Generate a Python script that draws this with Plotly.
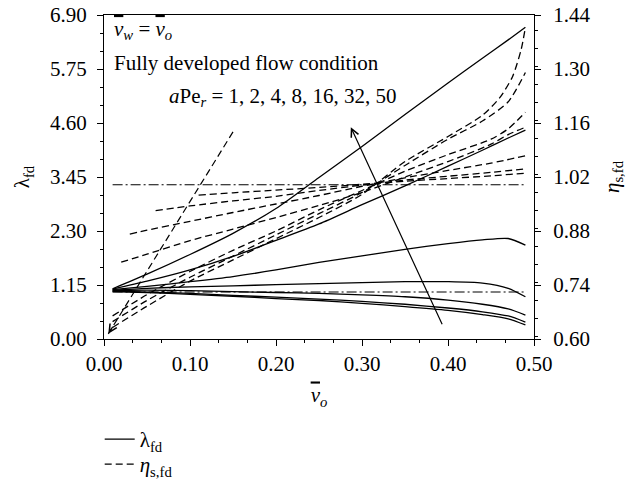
import plotly.graph_objects as go

# ---------------- data ----------------
APE = [1, 2, 4, 8, 16, 32, 50]

V_LAM = [0.01, 0.05, 0.10, 0.15, 0.20, 0.25, 0.30, 0.35, 0.40, 0.44, 0.47, 0.49]
LAM_1 = [1.01, 0.99, 0.95, 0.91, 0.86, 0.82, 0.76, 0.69, 0.61, 0.52, 0.43, 0.30]
LAM_2 = [1.02, 1.00, 0.97, 0.93, 0.89, 0.85, 0.80, 0.74, 0.66, 0.58, 0.49, 0.36]
LAM_4 = [1.03, 1.04, 1.03, 1.01, 0.99, 0.97, 0.94, 0.90, 0.83, 0.74, 0.64, 0.51]
LAM_8 = [1.04, 1.08, 1.11, 1.13, 1.16, 1.18, 1.20, 1.22, 1.22, 1.19, 1.08, 0.90]
LAM_16 = [1.05, 1.12, 1.22, 1.33, 1.47, 1.63, 1.77, 1.91, 2.03, 2.11, 2.14, 2.00]
LAM_32 = [1.06, 1.23, 1.47, 1.76, 2.10, 2.45, 2.86, 3.26, 3.68, 4.02, 4.28, 4.45]
LAM_50 = [1.07, 1.38, 1.80, 2.25, 2.78, 3.44, 4.10, 4.78, 5.45, 5.98, 6.37, 6.64]

V_ETA_1 = [0.11, 0.15, 0.20, 0.25, 0.30, 0.35, 0.40, 0.45, 0.49]
ETA_1 = [0.973, 0.979, 0.986, 0.993, 1.001, 1.009, 1.016, 1.023, 1.030]
V_ETA_2 = [0.06, 0.10, 0.15, 0.20, 0.25, 0.30, 0.35, 0.40, 0.45, 0.49]
ETA_2 = [0.933, 0.945, 0.958, 0.970, 0.985, 0.999, 1.012, 1.022, 1.032, 1.041]
V_ETA_4 = [0.03, 0.05, 0.10, 0.15, 0.20, 0.25, 0.30, 0.35, 0.40, 0.45, 0.49]
ETA_4 = [0.872, 0.882, 0.905, 0.928, 0.950, 0.972, 0.996, 1.018, 1.037, 1.056, 1.075]
V_ETA_8 = [0.02, 0.05, 0.10, 0.15, 0.20, 0.25, 0.30, 0.35, 0.40, 0.45, 0.47, 0.49]
ETA_8 = [0.799, 0.820, 0.855, 0.885, 0.915, 0.946, 0.980, 1.020, 1.060, 1.105, 1.130, 1.149]
V_ETA_16 = [0.01, 0.05, 0.10, 0.15, 0.20, 0.25, 0.30, 0.35, 0.40, 0.45, 0.47, 0.49]
ETA_16 = [0.660, 0.715, 0.775, 0.830, 0.880, 0.935, 0.985, 1.035, 1.078, 1.118, 1.145, 1.188]
V_ETA_32 = [0.01, 0.05, 0.10, 0.15, 0.20, 0.25, 0.30, 0.35, 0.40, 0.44, 0.47, 0.49]
ETA_32 = [0.645, 0.700, 0.760, 0.815, 0.870, 0.925, 0.980, 1.050, 1.118, 1.165, 1.215, 1.291]
V_ETA_50 = [0.01, 0.05, 0.10, 0.15, 0.20, 0.25, 0.30, 0.35, 0.40, 0.44, 0.46, 0.475, 0.485, 0.49]
ETA_50 = [0.630, 0.685, 0.750, 0.805, 0.860, 0.915, 0.975, 1.060, 1.125, 1.180, 1.225, 1.280, 1.350, 1.408]

REF_V = [0.01, 0.49]
REF_LAM = [1.0, 1.0]
REF_ETA = [1.0, 1.0]

X_TICKS = [0.0, 0.1, 0.2, 0.3, 0.4, 0.5]
Y1_TICKS = [0.0, 1.15, 2.30, 3.45, 4.60, 5.75, 6.90]
Y2_TICKS = [0.60, 0.74, 0.88, 1.02, 1.16, 1.30, 1.44]

# arrow endpoints (data coords, left axis)
LAM_ARROW_TAIL = (0.394, 0.28)
LAM_ARROW_HEAD = (0.287, 4.51)
ETA_ARROW_TAIL = (0.150, 4.41)
ETA_ARROW_HEAD = (0.005, 0.11)

LAM_SERIES = [LAM_1, LAM_2, LAM_4, LAM_8, LAM_16, LAM_32, LAM_50]
ETA_SERIES = [(V_ETA_1, ETA_1), (V_ETA_2, ETA_2), (V_ETA_4, ETA_4), (V_ETA_8, ETA_8),
              (V_ETA_16, ETA_16), (V_ETA_32, ETA_32), (V_ETA_50, ETA_50)]

FONT = "Liberation Serif"
FS = 21
LW = 1.3
DASH = "7px,4px"
DASHDOT = "10px,3px,2px,3px"

fig = go.Figure()

for i, (ape, lam) in enumerate(zip(APE, LAM_SERIES)):
    fig.add_trace(go.Scatter(
        x=V_LAM, y=lam, mode="lines", yaxis="y",
        line=dict(color="black", width=LW, shape="spline", smoothing=0.7),
        name="λ<sub>fd</sub>", legendgroup="lam", showlegend=(i == 0),
        legend="legend", hoverinfo="skip"))

for i, (ape, (vv, ee)) in enumerate(zip(APE, ETA_SERIES)):
    fig.add_trace(go.Scatter(
        x=vv, y=ee, mode="lines", yaxis="y2",
        line=dict(color="black", width=LW, dash=DASH, shape="spline", smoothing=0.7),
        name="<i>η</i><sub>s,fd</sub>", legendgroup="eta", showlegend=(i == 0),
        legend="legend2", hoverinfo="skip"))

fig.add_trace(go.Scatter(x=REF_V, y=REF_LAM, mode="lines", yaxis="y",
                         line=dict(color="black", width=1.1, dash=DASHDOT),
                         showlegend=False, hoverinfo="skip"))
fig.add_trace(go.Scatter(x=REF_V, y=REF_ETA, mode="lines", yaxis="y2",
                         line=dict(color="black", width=1.1, dash=DASHDOT),
                         showlegend=False, hoverinfo="skip"))

# dashed arrow shaft
fig.add_trace(go.Scatter(x=[ETA_ARROW_TAIL[0], ETA_ARROW_HEAD[0]],
                         y=[ETA_ARROW_TAIL[1], ETA_ARROW_HEAD[1]],
                         mode="lines", yaxis="y",
                         line=dict(color="black", width=1.2, dash=DASH),
                         showlegend=False, hoverinfo="skip", cliponaxis=False))

ann_font = dict(family=FONT, size=FS, color="black")
annotations = [
    dict(xref="paper", yref="paper", x=(112 - 104) / 430, y=(339 - 30) / 324,
         xanchor="left", yanchor="middle", showarrow=False, font=ann_font,
         text="<i><span style='text-decoration:overline'>v</span><sub>w</sub></i> = "
              "<i><span style='text-decoration:overline'>v</span><sub>o</sub></i>"),
    dict(xref="paper", yref="paper", x=(112 - 104) / 430, y=(339 - 63) / 324,
         xanchor="left", yanchor="middle", showarrow=False, font=ann_font,
         text="Fully developed flow condition"),
    dict(xref="paper", yref="paper", x=(283 - 104) / 430, y=(339 - 97) / 324,
         xanchor="center", yanchor="middle", showarrow=False, font=ann_font,
         text="<i>a</i>Pe<sub><i>r</i></sub> = 1, 2, 4, 8, 16, 32, 50"),
    dict(x=LAM_ARROW_HEAD[0], y=LAM_ARROW_HEAD[1], xref="x", yref="y",
         ax=LAM_ARROW_TAIL[0], ay=LAM_ARROW_TAIL[1], axref="x", ayref="y",
         showarrow=True, arrowhead=5, arrowsize=1.3, arrowwidth=1.2,
         arrowcolor="black", text=""),
    dict(x=ETA_ARROW_HEAD[0], y=ETA_ARROW_HEAD[1], xref="x", yref="y",
         ax=5.3, ay=-8.5, showarrow=True, arrowhead=5, arrowsize=1.3,
         arrowwidth=1.2, arrowcolor="black", text=""),
]

tickfont = dict(family=FONT, size=FS, color="black")
axis_common = dict(showline=True, linecolor="black", linewidth=1.2, ticks="outside",
                   ticklen=6, tickwidth=1.2, tickcolor="black", showgrid=False,
                   zeroline=False, tickfont=tickfont, tickformat=".2f")

legend_common = dict(x=-0.01, xanchor="left", yanchor="top",
                     font=dict(family=FONT, size=FS), bgcolor="rgba(0,0,0,0)",
                     tracegroupgap=0, itemwidth=30)

fig.update_layout(
    width=627, height=479,
    margin=dict(l=104, r=93, t=15, b=140, autoexpand=False),
    paper_bgcolor="white", plot_bgcolor="white",
    font=dict(family=FONT, size=FS, color="black"),
    xaxis=dict(range=[0, 0.5], tickvals=X_TICKS, mirror=True, automargin=False,
               minor=dict(dtick=0.1 / 3, ticklen=3, tickwidth=1, tickcolor="black", ticks="outside"),
               title=dict(text="<i><span style='text-decoration:overline'>v</span><sub>o</sub></i>",
                          font=dict(family=FONT, size=FS), standoff=12),
               **axis_common),
    yaxis=dict(range=[0, 6.9], tickvals=Y1_TICKS, automargin=False, ticklabelstandoff=6,
               minor=dict(dtick=1.15 / 3, ticklen=3, tickwidth=1, tickcolor="black", ticks="outside"),
               title=dict(text="λ<sub>fd</sub>", font=dict(family=FONT, size=FS), standoff=14),
               **axis_common),
    yaxis2=dict(range=[0.6, 1.44], tickvals=Y2_TICKS, overlaying="y", side="right",
                automargin=False, ticklabelstandoff=8,
                minor=dict(dtick=0.14 / 3, ticklen=3, tickwidth=1, tickcolor="black", ticks="outside"),
                title=dict(text="<i>η</i><sub>s,fd</sub>", font=dict(family=FONT, size=FS), standoff=14),
                **axis_common),
    legend=dict(y=-0.247, **legend_common),
    legend2=dict(y=-0.324, **legend_common),
    annotations=annotations,
    showlegend=True,
)

fig.write_html("out.html")
